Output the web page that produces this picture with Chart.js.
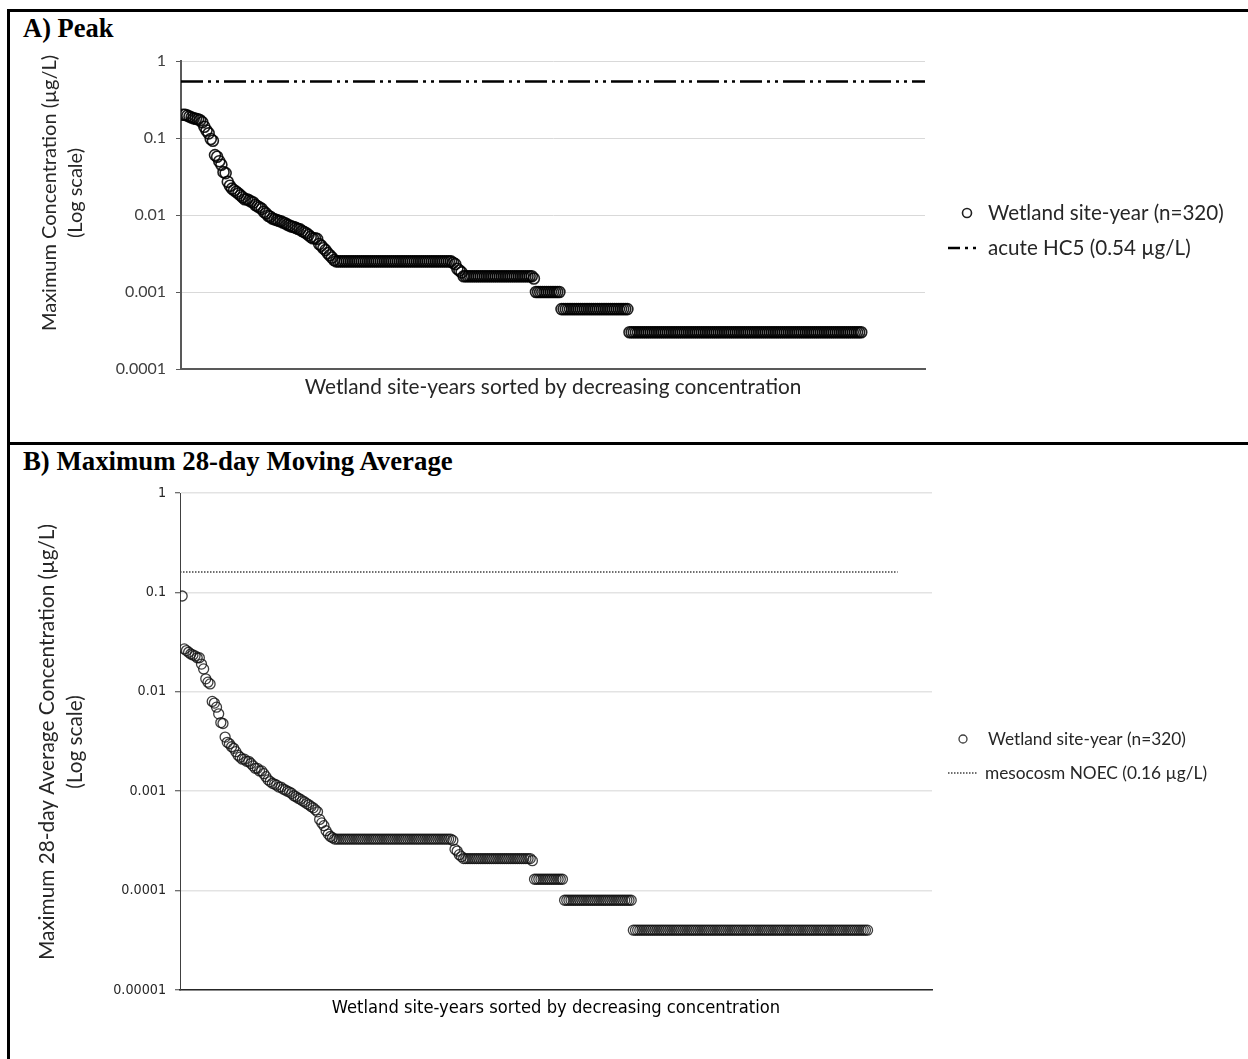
<!DOCTYPE html>
<html><head><meta charset="utf-8">
<script src="https://cdn.jsdelivr.net/npm/chart.js@4.4.1/dist/chart.umd.min.js"></script>
<style>
html,body{margin:0;padding:0;background:#fff;width:1248px;height:1059px;overflow:hidden;position:relative;}
#frame{position:absolute;left:7px;top:9px;width:1270px;height:1080px;border:3px solid #000;box-sizing:border-box;}
#divider{position:absolute;left:7px;top:442px;width:1260px;height:3px;background:#000;}
.ptitle{position:absolute;left:23px;font-family:'Liberation Serif','Times New Roman',serif;font-weight:bold;font-size:26.5px;line-height:26.5px;color:#000;white-space:nowrap;}
#tA{top:14.5px;}
#tB{top:448px;font-size:26.8px;}
.cv{position:absolute;left:10px;}
#wA{top:12px;width:1238px;height:430px;}
#wB{top:445px;width:1238px;height:614px;}
</style></head>
<body>
<div id="frame"></div>
<div id="divider"></div>
<div class="ptitle" id="tA">A) Peak</div>
<div class="ptitle" id="tB">B) Maximum 28-day Moving Average</div>
<div class="cv" id="wA"><canvas id="cA" width="1238" height="430"></canvas></div>
<div class="cv" id="wB"><canvas id="cB" width="1238" height="614"></canvas></div>
<script>
// ---------------- DATA ----------------
const siteYearCount = 320;
const siteYearRank = Array.from({length: siteYearCount}, (_, i) => i + 1);

// Panel A: peak concentration (µg/L), sorted decreasing
const peakConcentration = [
0.2,0.2,0.195,0.19,0.185,0.18,0.178,0.175,0.17,0.16,
0.14,0.125,0.115,0.097,0.092,0.06,0.057,0.05,0.045,0.036,
0.035,0.027,0.024,0.022,0.021,0.02,0.019,0.018,0.017,0.016,
0.016,0.0155,0.015,0.0145,0.0135,0.013,0.0125,0.012,0.011,0.0105,
0.0098,0.0095,0.009,0.0088,0.0086,0.0084,0.0083,0.008,0.0078,0.0075,
0.0073,0.0071,0.007,0.0068,0.0066,0.0065,0.0062,0.006,0.0058,0.0055,
0.0052,0.005,0.005,0.0049,0.0042,0.004,0.0037,0.0035,0.0032,0.003,
0.0028,0.0026,0.0025,
0.0025,0.0025,0.0025,0.0025,0.0025,0.0025,0.0025,0.0025,0.0025,0.0025,
0.0025,0.0025,0.0025,0.0025,0.0025,0.0025,0.0025,0.0025,0.0025,0.0025,
0.0025,0.0025,0.0025,0.0025,0.0025,0.0025,0.0025,0.0025,0.0025,0.0025,
0.0025,0.0025,0.0025,0.0025,0.0025,0.0025,0.0025,0.0025,0.0025,0.0025,
0.0025,0.0025,0.0025,0.0025,0.0025,0.0025,0.0025,0.0025,0.0025,0.0025,
0.0025,0.0025,0.0025,0.0025,
0.0024,0.0023,0.002,0.0019,0.0018,0.0016,
0.0016,0.0016,0.0016,0.0016,0.0016,0.0016,0.0016,0.0016,0.0016,0.0016,
0.0016,0.0016,0.0016,0.0016,0.0016,0.0016,0.0016,0.0016,0.0016,0.0016,
0.0016,0.0016,0.0016,0.0016,0.0016,0.0016,0.0016,0.0016,0.0016,0.0016,
0.0016,0.0016,
0.0015,
0.001,0.001,0.001,0.001,0.001,0.001,0.001,0.001,0.001,0.001,
0.001,0.001,
0.0006,0.0006,0.0006,0.0006,0.0006,0.0006,0.0006,0.0006,0.0006,0.0006,
0.0006,0.0006,0.0006,0.0006,0.0006,0.0006,0.0006,0.0006,0.0006,0.0006,
0.0006,0.0006,0.0006,0.0006,0.0006,0.0006,0.0006,0.0006,0.0006,0.0006,
0.0006,0.0006,
0.0003,0.0003,0.0003,0.0003,0.0003,0.0003,0.0003,0.0003,0.0003,0.0003,
0.0003,0.0003,0.0003,0.0003,0.0003,0.0003,0.0003,0.0003,0.0003,0.0003,
0.0003,0.0003,0.0003,0.0003,0.0003,0.0003,0.0003,0.0003,0.0003,0.0003,
0.0003,0.0003,0.0003,0.0003,0.0003,0.0003,0.0003,0.0003,0.0003,0.0003,
0.0003,0.0003,0.0003,0.0003,0.0003,0.0003,0.0003,0.0003,0.0003,0.0003,
0.0003,0.0003,0.0003,0.0003,0.0003,0.0003,0.0003,0.0003,0.0003,0.0003,
0.0003,0.0003,0.0003,0.0003,0.0003,0.0003,0.0003,0.0003,0.0003,0.0003,
0.0003,0.0003,0.0003,0.0003,0.0003,0.0003,0.0003,0.0003,0.0003,0.0003,
0.0003,0.0003,0.0003,0.0003,0.0003,0.0003,0.0003,0.0003,0.0003,0.0003,
0.0003,0.0003,0.0003,0.0003,0.0003,0.0003,0.0003,0.0003,0.0003,0.0003,
0.0003,0.0003,0.0003,0.0003,0.0003,0.0003,0.0003,0.0003,0.0003,0.0003
];

// Panel B: maximum 28-day moving average concentration (µg/L), sorted decreasing
const movingAvgConcentration = [
0.092,0.027,0.026,0.025,0.024,0.0235,0.023,0.022,0.022,0.019,
0.017,0.0135,0.0125,0.012,0.008,0.0077,0.007,0.006,0.0049,0.0048,
0.0035,0.0031,0.003,0.0028,0.0027,0.0025,0.0023,0.0022,0.0021,0.0021,
0.002,0.002,0.0019,0.0018,0.0017,0.0017,0.0016,0.0016,0.0015,0.0014,
0.0013,0.00125,0.0012,0.00118,0.00115,0.0011,0.0011,0.00105,0.00103,0.001,
0.00098,0.00095,0.0009,0.00088,0.00085,0.00083,0.0008,0.00078,0.00075,0.00073,
0.0007,0.00068,0.00065,0.00062,0.00052,0.00048,0.00045,0.0004,0.00037,0.00035,
0.00034,0.00033,
0.00033,0.00033,0.00033,0.00033,0.00033,0.00033,0.00033,0.00033,0.00033,0.00033,
0.00033,0.00033,0.00033,0.00033,0.00033,0.00033,0.00033,0.00033,0.00033,0.00033,
0.00033,0.00033,0.00033,0.00033,0.00033,0.00033,0.00033,0.00033,0.00033,0.00033,
0.00033,0.00033,0.00033,0.00033,0.00033,0.00033,0.00033,0.00033,0.00033,0.00033,
0.00033,0.00033,0.00033,0.00033,0.00033,0.00033,0.00033,0.00033,0.00033,0.00033,
0.00033,0.00033,0.00033,0.00033,
0.00032,0.00026,0.00025,0.00023,0.00022,
0.00021,0.00021,0.00021,0.00021,0.00021,0.00021,0.00021,0.00021,0.00021,0.00021,
0.00021,0.00021,0.00021,0.00021,0.00021,0.00021,0.00021,0.00021,0.00021,0.00021,
0.00021,0.00021,0.00021,0.00021,0.00021,0.00021,0.00021,0.00021,0.00021,0.00021,
0.00021,0.00021,
0.0002,
0.00013,0.00013,0.00013,0.00013,0.00013,0.00013,0.00013,0.00013,0.00013,0.00013,
0.00013,0.00013,0.00013,0.00013,
0.00008,0.00008,0.00008,0.00008,0.00008,0.00008,0.00008,0.00008,0.00008,0.00008,
0.00008,0.00008,0.00008,0.00008,0.00008,0.00008,0.00008,0.00008,0.00008,0.00008,
0.00008,0.00008,0.00008,0.00008,0.00008,0.00008,0.00008,0.00008,0.00008,0.00008,
0.00008,0.00008,
0.00004,0.00004,0.00004,0.00004,0.00004,0.00004,0.00004,0.00004,0.00004,0.00004,
0.00004,0.00004,0.00004,0.00004,0.00004,0.00004,0.00004,0.00004,0.00004,0.00004,
0.00004,0.00004,0.00004,0.00004,0.00004,0.00004,0.00004,0.00004,0.00004,0.00004,
0.00004,0.00004,0.00004,0.00004,0.00004,0.00004,0.00004,0.00004,0.00004,0.00004,
0.00004,0.00004,0.00004,0.00004,0.00004,0.00004,0.00004,0.00004,0.00004,0.00004,
0.00004,0.00004,0.00004,0.00004,0.00004,0.00004,0.00004,0.00004,0.00004,0.00004,
0.00004,0.00004,0.00004,0.00004,0.00004,0.00004,0.00004,0.00004,0.00004,0.00004,
0.00004,0.00004,0.00004,0.00004,0.00004,0.00004,0.00004,0.00004,0.00004,0.00004,
0.00004,0.00004,0.00004,0.00004,0.00004,0.00004,0.00004,0.00004,0.00004,0.00004,
0.00004,0.00004,0.00004,0.00004,0.00004,0.00004,0.00004,0.00004,0.00004,0.00004,
0.00004,0.00004,0.00004,0.00004,0.00004,0.00004,0.00004,0.00004,0.00004,0.00004
];

// Reference lines
const acuteHC5 = 0.54;           // µg/L
const acuteHC5Span = [0, 350];   // rank range the line covers
const mesocosmNOEC = 0.16;       // µg/L
const mesocosmNOECSpan = [0, 334];

// Axis ranges and tick labels
const rankRange = [0, 350];
const yTicksA = [0.0001, 0.001, 0.01, 0.1, 1];
const yTickLabelsA = ['0.0001', '0.001', '0.01', '0.1', '1'];
const yTicksB = [0.00001, 0.0001, 0.001, 0.01, 0.1, 1];
const yTickLabelsB = ['0.00001', '0.0001', '0.001', '0.01', '0.1', '1'];

// Text
const seriesLabel = 'Wetland site-year (n=320)';
const hc5Label = 'acute HC5 (0.54 µg/L)';
const noecLabel = 'mesocosm NOEC (0.16 µg/L)';
const xTitle = 'Wetland site-years sorted by decreasing concentration';
const yTitleA = ['Maximum Concentration (µg/L)', '(Log scale)'];
const yTitleB = ['Maximum 28-day Average Concentration (µg/L)', '(Log scale)'];

// ---------------- RENDER ----------------
const SANS = "Lato, 'Open Sans', sans-serif";
const NARROW = "'Liberation Sans Narrow', 'DejaVu Sans Condensed', sans-serif";

const panelText = {
  id: 'panelText',
  afterDraw(chart, args, o) {
    const ctx = chart.ctx;
    ctx.save();
    ctx.textBaseline = 'middle';
    o.yTitle.forEach(t => {
      ctx.save();
      ctx.translate(t.x, t.y);
      ctx.rotate(-Math.PI / 2);
      ctx.font = t.font;
      ctx.fillStyle = t.color;
      ctx.textAlign = 'center';
      ctx.fillText(t.text, 0, 0);
      ctx.restore();
    });
    o.legend.forEach(it => {
      const ds = chart.data.datasets[it.dataset];
      ctx.save();
      if (it.kind === 'point') {
        ctx.beginPath();
        ctx.arc(it.mx, it.y, it.r, 0, Math.PI * 2);
        ctx.lineWidth = ds.pointBorderWidth;
        ctx.strokeStyle = ds.pointBorderColor;
        ctx.stroke();
      } else {
        ctx.beginPath();
        ctx.setLineDash(ds.borderDash || []);
        ctx.lineDashOffset = it.dashOffset || 0;
        ctx.lineWidth = ds.borderWidth;
        ctx.strokeStyle = ds.borderColor;
        ctx.moveTo(it.mx, it.y);
        ctx.lineTo(it.mx2, it.y);
        ctx.stroke();
      }
      ctx.restore();
      ctx.font = it.font;
      ctx.fillStyle = it.color;
      ctx.textAlign = 'left';
      ctx.fillText(ds.label, it.tx, it.y);
    });
    ctx.restore();
  }
};

function pts(vals) { return vals.map((v, i) => ({x: siteYearRank[i], y: v})); }

function makeChart(id, cfg) {
  return new Chart(document.getElementById(id), {
    type: 'scatter',
    data: {
      datasets: [
        {
          label: seriesLabel,
          data: pts(cfg.values),
          pointRadius: cfg.r,
          pointHoverRadius: cfg.r,
          pointBorderWidth: cfg.pbw,
          pointBorderColor: cfg.pcol,
          pointBackgroundColor: 'rgba(0,0,0,0)',
          showLine: false,
          clip: 0,
          order: 1
        },
        {
          label: cfg.refLabel,
          data: [{x: cfg.refSpan[0], y: cfg.refValue}, {x: cfg.refSpan[1], y: cfg.refValue}],
          showLine: true,
          pointRadius: 0,
          borderColor: cfg.refColor,
          borderWidth: cfg.refWidth,
          borderDash: cfg.refDash,
          order: 0
        }
      ]
    },
    options: {
      responsive: false,
      animation: false,
      devicePixelRatio: 1,
      events: [],
      layout: {padding: cfg.padding},
      plugins: {
        legend: {display: false},
        tooltip: {enabled: false},
        panelText: cfg.text
      },
      scales: {
        x: {
          type: 'linear', min: rankRange[0], max: rankRange[1],
          ticks: {display: false},
          grid: {display: false},
          border: {display: true, color: cfg.xBorderColor, width: cfg.xBorderWidth},
          title: {display: true, text: xTitle, color: cfg.xTitleColor,
                  font: cfg.xTitleFont, padding: {top: 0, bottom: cfg.xTitlePad}},
          afterFit(s) { s.height = 40; }
        },
        y: {
          type: 'logarithmic', min: cfg.ticks[0], max: cfg.ticks[cfg.ticks.length - 1],
          afterBuildTicks(s) { s.ticks = cfg.ticks.map(v => ({value: v})); },
          ticks: {
            callback: (v, i) => cfg.tickLabels[i],
            color: cfg.tickColor, font: cfg.tickFont, padding: cfg.tickPad, autoSkip: false
          },
          grid: {color: cfg.gridColor, lineWidth: cfg.gridWidth, tickLength: 5, tickColor: cfg.yBorderColor, tickWidth: 1},
          border: {display: true, color: cfg.yBorderColor, width: cfg.yBorderWidth},
          afterFit(s) { s.width = 110; }
        }
      }
    },
    plugins: [panelText]
  });
}

makeChart('cA', {
  values: peakConcentration, r: 5.5, pbw: 1.6, pcol: 'rgba(0,0,0,0.88)',
  refLabel: hc5Label, refSpan: acuteHC5Span, refValue: acuteHC5,
  refColor: '#000', refWidth: 2.5, refDash: [22, 5, 3, 5, 3, 5],
  padding: {left: 61, top: 49, right: 323, bottom: 33},
  xBorderColor: '#595959', xBorderWidth: 2,
  yBorderColor: '#595959', yBorderWidth: 2,
  xTitleColor: '#262626', xTitleFont: {family: SANS, size: 20.8}, xTitlePad: 9.5,
  ticks: yTicksA, tickLabels: yTickLabelsA, tickColor: '#404040',
  tickFont: {family: SANS, size: 16}, tickPad: 10,
  gridColor: '#d9d9d9', gridWidth: 1,
  text: {
    yTitle: [
      {text: yTitleA[0], x: 40, y: 181, font: "20px " + SANS, color: '#262626'},
      {text: yTitleA[1], x: 66, y: 181, font: "20px " + SANS, color: '#262626'}
    ],
    legend: [
      {dataset: 0, kind: 'point', mx: 957, r: 4.5, y: 201, tx: 978, font: "20.6px " + SANS, color: '#262626'},
      {dataset: 1, kind: 'line', mx: 938, mx2: 966, dashOffset: 10, y: 236, tx: 978, font: "20.6px " + SANS, color: '#262626'}
    ]
  }
});

makeChart('cB', {
  values: movingAvgConcentration, r: 5, pbw: 1.3, pcol: 'rgba(20,20,20,0.82)',
  refLabel: noecLabel, refSpan: mesocosmNOECSpan, refValue: mesocosmNOEC,
  refColor: '#404040', refWidth: 1.5, refDash: [1.5, 1.5],
  padding: {left: 60, top: 48, right: 316, bottom: 29},
  xBorderColor: '#262626', xBorderWidth: 1.5,
  yBorderColor: '#404040', yBorderWidth: 1,
  xTitleColor: '#000', xTitleFont: {family: NARROW, size: 18.2}, xTitlePad: 11,
  ticks: yTicksB, tickLabels: yTickLabelsB, tickColor: '#262626',
  tickFont: {family: NARROW, size: 14.2}, tickPad: 9,
  gridColor: '#e3e3e3', gridWidth: 1.5,
  text: {
    yTitle: [
      {text: yTitleB[0], x: 37, y: 297, font: "20.8px " + SANS, color: '#262626'},
      {text: yTitleB[1], x: 65, y: 297, font: "20.8px " + SANS, color: '#262626'}
    ],
    legend: [
      {dataset: 0, kind: 'point', mx: 953, r: 4, y: 294, tx: 978, font: "17.3px " + SANS, color: '#262626'},
      {dataset: 1, kind: 'line', mx: 938, mx2: 967, y: 328, tx: 975, font: "17.3px " + SANS, color: '#262626'}
    ]
  }
});
</script>
</body></html>
